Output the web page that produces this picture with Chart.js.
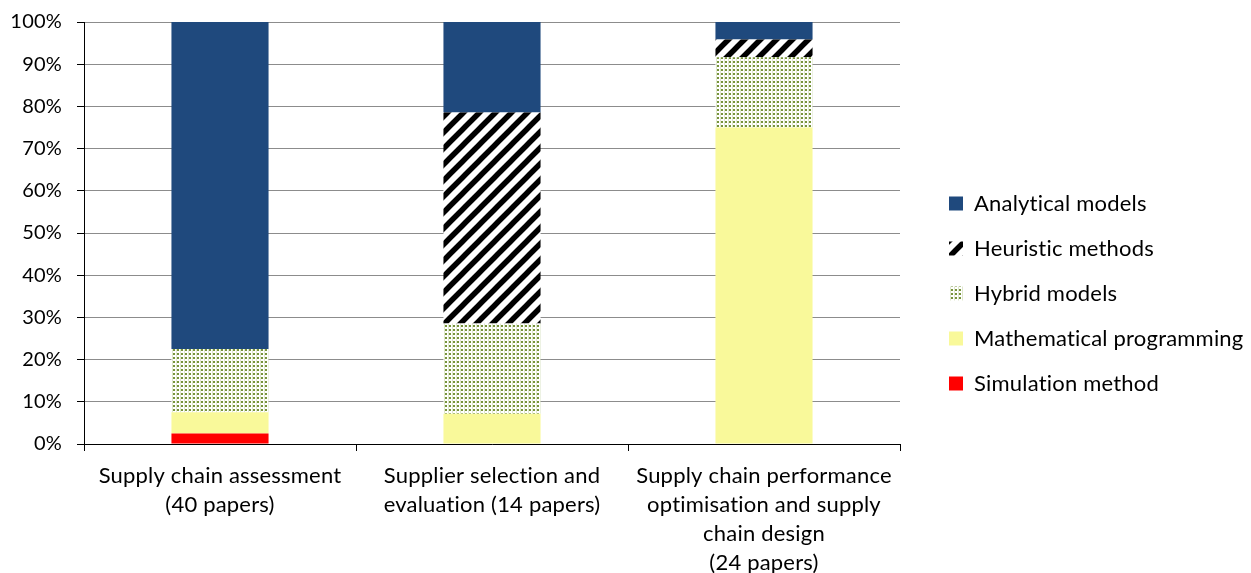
<!DOCTYPE html>
<html>
<head>
<meta charset="utf-8">
<script src="https://cdn.jsdelivr.net/npm/chart.js@4.4.1/dist/chart.umd.min.js"></script>
<style>
  html, body { margin: 0; padding: 0; background: #fff; }
  #chart-box { width: 1251px; height: 573px; }
</style>
</head>
<body>
<div id="chart-box"><canvas id="methods-chart" width="1251" height="573"></canvas></div>
<script>
// Categories (multi-line x labels)
const categories = [
    ['Supply chain assessment', '(40 papers)'],
    ['Supplier selection and', 'evaluation (14 papers)'],
    ['Supply chain performance', 'optimisation and supply', 'chain design', '(24 papers)']
];

// Share of papers per method, in %
const simulationMethod = [2.5, 0, 0];
const mathematicalProgramming = [5, 7.14, 75];
const hybridModels = [15, 21.43, 16.67];
const heuristicMethods = [0, 50, 4.17];
const analyticalModels = [77.5, 21.43, 4.16];

// y axis ticks: 0% .. 100% step 10
const yTickStep = 10;
const yTickMax = 100;

const FONT = 'Lato, "Open Sans", sans-serif';
const LEGEND_WIDTH = 351;
const LEGEND_DX = 26;
const LEGEND_DY = -4;

function makeDotPattern() {
    const c = document.createElement('canvas');
    c.width = 4;
    c.height = 4;
    const g = c.getContext('2d');
    g.fillStyle = '#ffffff';
    g.fillRect(0, 0, 4, 4);
    g.fillStyle = '#dfe7cc';
    g.fillRect(0, 0, 1, 4);
    g.fillStyle = '#77933c';
    g.fillRect(1, 1, 2, 2);
    return g.createPattern(c, 'repeat');
}

function makeStripePattern() {
    const c = document.createElement('canvas');
    c.width = 16;
    c.height = 16;
    const g = c.getContext('2d');
    g.fillStyle = '#ffffff';
    g.fillRect(0, 0, 16, 16);
    g.strokeStyle = '#000000';
    g.lineWidth = 5.5;
    g.beginPath();
    g.moveTo(-4, 20); g.lineTo(20, -4);
    g.moveTo(-4, 4); g.lineTo(4, -4);
    g.moveTo(12, 20); g.lineTo(20, 12);
    g.stroke();
    return g.createPattern(c, 'repeat');
}

// Legend sits further right than Chart.js would put it: widen the box and shift the drawing
const legendShift = {
    id: 'legendShift',
    beforeInit(chart) {
        const legend = chart.legend;
        const fit = legend.fit;
        legend.fit = function () {
            fit.call(this);
            this.width = LEGEND_WIDTH;
        };
        const draw = legend.draw;
        legend.draw = function () {
            this.ctx.save();
            this.ctx.translate(LEGEND_DX, LEGEND_DY);
            draw.call(this);
            this.ctx.restore();
        };
    },
    beforeDraw(chart) {
        // a tiny letter spacing keeps Lato from drawing its "ti" ligature
        chart.ctx.letterSpacing = '0.2px';
    }
};

Chart.defaults.color = '#000';
Chart.defaults.font.family = FONT;

const ctx = document.getElementById('methods-chart');
new Chart(ctx, {
    type: 'bar',
    data: {
        labels: categories,
        datasets: [
            { label: 'Simulation method', data: simulationMethod, backgroundColor: '#ff0000' },
            { label: 'Mathematical programming', data: mathematicalProgramming, backgroundColor: '#f9f99a' },
            { label: 'Hybrid models', data: hybridModels, backgroundColor: makeDotPattern() },
            { label: 'Heuristic methods', data: heuristicMethods, backgroundColor: makeStripePattern() },
            { label: 'Analytical models', data: analyticalModels, backgroundColor: '#1f497d' }
        ]
    },
    options: {
        responsive: false,
        animation: false,
        borderWidth: 0,
        barPercentage: 0.357,
        categoryPercentage: 1,
        layout: { padding: { top: 22, left: 10, right: 0, bottom: 0 } },
        plugins: {
            legend: {
                position: 'right',
                reverse: true,
                labels: {
                    boxWidth: 14,
                    boxHeight: 14,
                    padding: 23,
                    font: { size: 22, family: FONT }
                }
            },
            tooltip: { enabled: false }
        },
        scales: {
            x: {
                stacked: true,
                border: { color: '#000', width: 1 },
                grid: { offset: true, drawOnChartArea: false, tickLength: 7, tickColor: '#000' },
                ticks: { autoSkip: false, maxRotation: 0, padding: 10, font: { size: 22, lineHeight: 1.318 } },
                afterFit: (scale) => { scale.height = 129; }
            },
            y: {
                stacked: true,
                min: 0,
                max: yTickMax,
                border: { color: '#000', width: 1 },
                grid: { color: '#8c8c8c', tickColor: '#000', tickLength: 7 },
                ticks: {
                    stepSize: yTickStep,
                    padding: 15,
                    font: { size: 20 },
                    callback: (v) => v + '%'
                },
                afterFit: (scale) => {
                    scale.width = 74;
                    scale.paddingTop = 0;
                    scale.paddingBottom = 0;
                }
            }
        }
    },
    plugins: [legendShift]
});
</script>
</body>
</html>
